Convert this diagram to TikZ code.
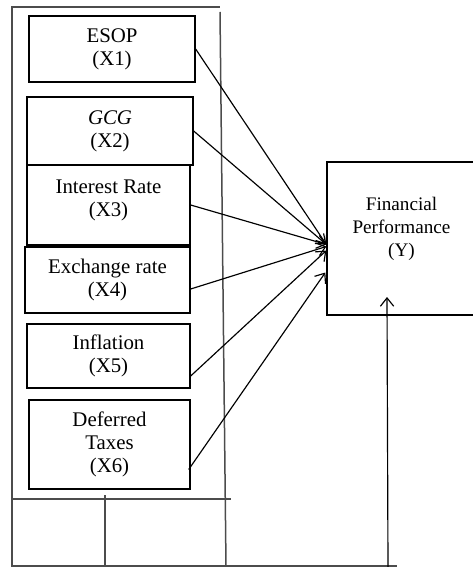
\documentclass[tikz,border=0pt]{standalone}
\usepackage{fontspec}
\setmainfont{Liberation Serif}
\usetikzlibrary{arrows.meta, positioning, calc}
\tikzset{
    varbox/.style={
        rectangle,
        draw=black,
        line width=0.8pt,
        fill=white,
        align=center,
        inner sep=0pt,
        font=\fontsize{12.5}{14}\selectfont
    },
    perfbox/.style={
        rectangle,
        draw=black,
        line width=0.8pt,
        align=center,
        inner sep=0pt,
        text depth=14pt,
        font=\fontsize{11.5}{13.6}\selectfont
    },
    arrow/.style={
        -{Straight Barb[length=5pt,width=8pt]},
        line width=0.7pt
    },
    frameline/.style={
        draw=black!70,
        line width=0.9pt
    }
}

\begin{document}
\begin{tikzpicture}[x=0.6pt, y=-0.6pt]
    \clip (0,0) rectangle (473,567);

    % Outer frame
    \draw[frameline] (12,567) -- (12,7) -- (220,7);
    \draw[frameline] (220,12) -- (226,567);
    \draw[frameline] (12,499) -- (231,499);
    \draw[frameline] (105,495) -- (105,567);
    \draw[frameline] (12,566) -- (397,566);

    % Independent variables
    \node[varbox, minimum width=99.6pt, minimum height=39.6pt] (esop) at (112,49) {ESOP\\(X1)};
    \node[varbox, minimum width=99.6pt, minimum height=40.8pt] (gcg) at (110,131) {\textit{GCG}\\(X2)};
    \node[varbox, minimum width=97.8pt, minimum height=48pt, text depth=8pt] (rate) at (108.5,205) {Interest Rate\\(X3)};
    \node[varbox, minimum width=99pt, minimum height=39.6pt] (exch) at (107.5,280) {Exchange rate\\(X4)};
    \node[varbox, minimum width=97.8pt, minimum height=38.4pt] (infl) at (108.5,356) {Inflation\\(X5)};
    \node[varbox, minimum width=96.6pt, minimum height=53.4pt] (tax) at (109.5,444.5) {Deferred\\Taxes\\(X6)};

    % Dependent variable
    \node[perfbox, minimum width=89.4pt, minimum height=91.8pt] (perf) at (401.5,238.5) {Financial\\Performance\\(Y)};

    \coordinate (ybase) at (388,567);
    \coordinate (ytip) at (387,297);

    % Arrows
    \draw[arrow] (esop.east) -- ($(perf.west)+(0,6)$);
    \draw[arrow] (gcg.east) -- ($(perf.west)+(0,6)$);
    \draw[arrow] (rate.east) -- ($(perf.west)+(0,6)$);
    \draw[arrow] ($(exch.east)+(0,9)$) -- ($(perf.west)+(0,8)$);
    \draw[arrow] ($(infl.east)+(0,20)$) -- ($(perf.west)+(0,12)$);
    \draw[arrow] ($(tax.east)+(-2,25)$) -- ($(perf.west)+(-1,34)$);
    \draw[arrow] (ybase) -- (ytip);

\end{tikzpicture}
\end{document}
